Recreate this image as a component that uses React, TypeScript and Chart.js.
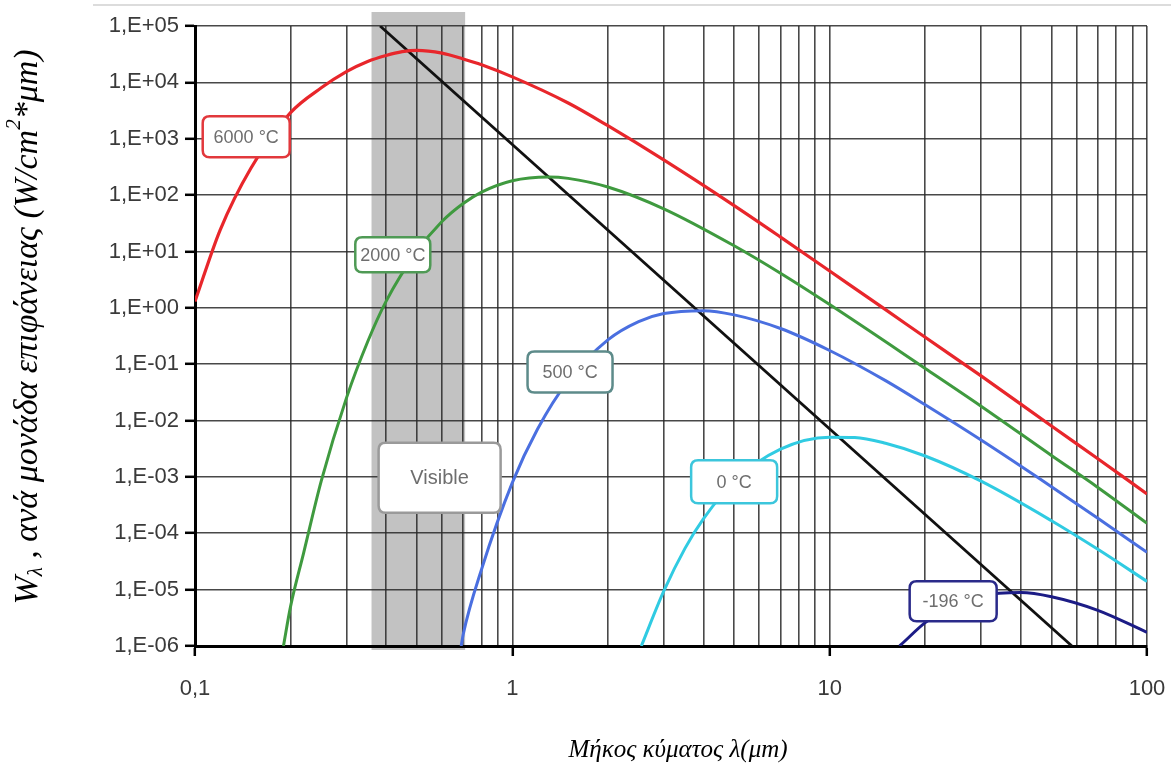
import { useEffect, useRef } from 'react';
import { Chart, registerables } from 'chart.js';

Chart.register(...registerables);

// ---------- axes ----------
const xGridValues = [
  0.1, 0.2, 0.3, 0.4, 0.5, 0.6, 0.7, 0.8, 0.9,
  1, 2, 3, 4, 5, 6, 7, 8, 9,
  10, 20, 30, 40, 50, 60, 70, 80, 90, 100,
];
const xDecades = [0.1, 1, 10, 100];
const xTickLabels = ['0,1', '1', '10', '100'];
const yDecades = [1e-6, 1e-5, 1e-4, 1e-3, 1e-2, 1e-1, 1e0, 1e1, 1e2, 1e3, 1e4, 1e5];
const yTickLabels = [
  '1,E-06', '1,E-05', '1,E-04', '1,E-03', '1,E-02', '1,E-01',
  '1,E+00', '1,E+01', '1,E+02', '1,E+03', '1,E+04', '1,E+05',
];
const xTitle = 'Μήκος κύματος λ(μm)';
const yTitleParts = ['W', 'λ', ' , ανά μονάδα επιφάνειας (W/cm', '2', '*μm)'];

// ---------- series (wavelength μm, W/cm²·μm) ----------
const lambda6000 = [0.1, 0.12, 0.15, 0.2, 0.25, 0.3, 0.35, 0.4, 0.45, 0.5, 0.6, 0.7, 0.8, 1, 1.5, 2, 3, 5, 7, 10, 15, 20, 30, 50, 70, 100];
const w6000 = [1.3, 24, 300, 2900, 8000, 15500, 23500, 30000, 35000, 37000, 33000, 26000, 20500, 12500, 4300, 1700, 420, 65, 18, 4.5, 0.93, 0.3, 0.062, 0.008, 0.0021, 0.0005];

const lambda2000 = [0.19, 0.2, 0.22, 0.25, 0.3, 0.35, 0.4, 0.5, 0.6, 0.7, 0.8, 1, 1.3, 1.5, 2, 3, 5, 7, 10, 20, 30, 50, 70, 100];
const w2000 = [1e-6, 5e-6, 4.5e-5, 8.5e-4, 0.025, 0.25, 1.3, 10, 34, 71, 113, 180, 210, 198, 139, 57, 12.6, 4.1, 1.14, 0.084, 0.018, 0.0024, 6.5e-4, 1.5e-4];

const lambda500 = [0.69, 0.7, 0.8, 1, 1.2, 1.5, 2, 2.5, 3, 4, 5, 7, 10, 15, 20, 30, 50, 70, 100];
const w500 = [1e-6, 1.6e-6, 2.3e-5, 7.9e-4, 7.0e-3, 0.051, 0.27, 0.57, 0.79, 0.89, 0.75, 0.43, 0.175, 0.051, 0.019, 0.0045, 6.7e-4, 1.85e-4, 4.6e-5];

const lambda0 = [2.55, 3, 3.5, 4, 5, 7, 10, 12, 15, 20, 30, 50, 70, 100];
const w0 = [1e-6, 9.4e-6, 5.4e-5, 1.8e-4, 8.3e-4, 3.1e-3, 5.05e-3, 5.0e-3, 3.95e-3, 2.35e-3, 8.4e-4, 1.67e-4, 5.2e-5, 1.4e-5];

const lambdaM196 = [16.6, 17, 20, 25, 30, 40, 50, 70, 100];
const wM196 = [1e-6, 1.13e-6, 2.6e-6, 5.6e-6, 7.8e-6, 8.9e-6, 7.5e-6, 4.3e-6, 1.75e-6];

// Wien displacement line
const lambdaWien = [0.383, 58];
const wWien = [1e5, 1e-6];

// visible band (μm)
const visibleRange = [0.36, 0.71];

// curve labels: text and anchor (data coordinates)
const labelTexts = ['6000 °C', '2000 °C', '500 °C', '0 °C', '-196 °C', 'Visible'];
const labelLambda = [0.145, 0.42, 1.52, 5.0, 24.5, 0.59];
const labelW = [1080, 8.7, 0.073, 8.2e-4, 6.2e-6, 9.7e-4];

// styles (kept separate)
const labelStyle = [
  { border: '#e2383c', w: 87, h: 41, size: 18 },
  { border: '#4f9a55', w: 75, h: 35, size: 18 },
  { border: '#5d8b8a', w: 85, h: 41, size: 18 },
  { border: '#3cc6dc', w: 86, h: 43, size: 18 },
  { border: '#2a2a8a', w: 87, h: 40, size: 18 },
  { border: '#9a9a9a', w: 122, h: 70, size: 20 },
];

const pts = (xs: number[], ys: number[]) => xs.map((x, i) => ({ x, y: ys[i] }));
const isDecade = (v: number) => Math.abs(Math.log10(v) - Math.round(Math.log10(v))) < 1e-6;
const SANS = '"Liberation Sans", Arial, sans-serif';
const SERIF = '"Liberation Serif", "Times New Roman", serif';

function roundRect(ctx: CanvasRenderingContext2D, x: number, y: number, w: number, h: number, r: number) {
  ctx.beginPath();
  ctx.moveTo(x + r, y);
  ctx.lineTo(x + w - r, y);
  ctx.quadraticCurveTo(x + w, y, x + w, y + r);
  ctx.lineTo(x + w, y + h - r);
  ctx.quadraticCurveTo(x + w, y + h, x + w - r, y + h);
  ctx.lineTo(x + r, y + h);
  ctx.quadraticCurveTo(x, y + h, x, y + h - r);
  ctx.lineTo(x, y + r);
  ctx.quadraticCurveTo(x, y, x + r, y);
  ctx.closePath();
}

const decorPlugin = {
  id: 'decor',
  beforeDraw(chart: any) {
    const { ctx, chartArea, scales } = chart;
    ctx.save();
    // faint frame line at top
    ctx.strokeStyle = '#dcdcdc';
    ctx.lineWidth = 2;
    ctx.beginPath();
    ctx.moveTo(93, 5);
    ctx.lineTo(chart.width, 5);
    ctx.stroke();
    // visible band
    const x0 = scales.x.getPixelForValue(visibleRange[0]);
    const x1 = scales.x.getPixelForValue(visibleRange[1]);
    ctx.fillStyle = '#c2c2c2';
    ctx.fillRect(x0, chartArea.top - 14, x1 - x0, chartArea.bottom - chartArea.top + 18);
    ctx.restore();
  },
  afterDatasetsDraw(chart: any) {
    const { ctx, scales } = chart;
    ctx.save();
    labelTexts.forEach((t, i) => {
      const st = labelStyle[i];
      const cx = scales.x.getPixelForValue(labelLambda[i]);
      const cy = scales.y.getPixelForValue(labelW[i]);
      roundRect(ctx, cx - st.w / 2, cy - st.h / 2, st.w, st.h, 7);
      ctx.fillStyle = '#ffffff';
      ctx.fill();
      ctx.lineWidth = 2.5;
      ctx.strokeStyle = st.border;
      ctx.stroke();
      ctx.fillStyle = '#6e6e6e';
      ctx.font = `${st.size}px ${SANS}`;
      ctx.textAlign = 'center';
      ctx.textBaseline = 'middle';
      ctx.fillText(t, cx, cy + 1);
    });
    ctx.restore();
  },
  afterDraw(chart: any) {
    const { ctx } = chart;
    ctx.save();
    // x title
    ctx.fillStyle = '#000';
    ctx.font = `italic 25px ${SERIF}`;
    ctx.textAlign = 'center';
    ctx.textBaseline = 'middle';
    ctx.fillText(xTitle, 678, 750);
    // y title (rotated, with sub/superscript)
    const big = `italic 34px ${SERIF}`;
    const small = `italic 21px ${SERIF}`;
    const segs = [
      { t: yTitleParts[0], f: big, dy: 0 },
      { t: yTitleParts[1], f: small, dy: 8 },
      { t: yTitleParts[2], f: big, dy: 0 },
      { t: yTitleParts[3], f: small, dy: -14 },
      { t: yTitleParts[4], f: big, dy: 0 },
    ];
    let total = 0;
    segs.forEach((s) => { ctx.font = s.f; total += ctx.measureText(s.t).width; });
    ctx.translate(28, 327);
    ctx.rotate(-Math.PI / 2);
    ctx.textAlign = 'left';
    ctx.textBaseline = 'middle';
    let x = -total / 2;
    segs.forEach((s) => {
      ctx.font = s.f;
      ctx.fillText(s.t, x, s.dy);
      x += ctx.measureText(s.t).width;
    });
    ctx.restore();
  },
};

export default function App() {
  const ref = useRef<HTMLCanvasElement | null>(null);

  useEffect(() => {
    document.body.style.margin = '0';
    const canvas = ref.current;
    if (!canvas) return;
    const lineDs = (label: string, data: any[], color: string, width: number) => ({
      label,
      data,
      borderColor: color,
      backgroundColor: color,
      borderWidth: width,
      pointRadius: 0,
      fill: false,
      cubicInterpolationMode: 'monotone' as const,
    });
    const chart = new Chart(canvas, {
      type: 'line',
      data: {
        datasets: [
          lineDs('6000 °C', pts(lambda6000, w6000), '#e8262b', 3.2),
          lineDs('2000 °C', pts(lambda2000, w2000), '#3f9a3f', 3),
          lineDs('500 °C', pts(lambda500, w500), '#4a6fe0', 3),
          lineDs('0 °C', pts(lambda0, w0), '#30cbe2', 3),
          lineDs('-196 °C', pts(lambdaM196, wM196), '#1c1c86', 3),
          { ...lineDs('Wien', pts(lambdaWien, wWien), '#111111', 2.8), cubicInterpolationMode: 'default' as const, tension: 0 },
        ],
      },
      options: {
        responsive: false,
        animation: false,
        events: [],
        layout: { padding: { left: 0, right: 24, top: 26, bottom: 0 } },
        plugins: { legend: { display: false }, tooltip: { enabled: false }, title: { display: false } },
        scales: {
          x: {
            type: 'logarithmic',
            min: 0.1,
            max: 100,
            afterBuildTicks: (scale: any) => {
              scale.ticks = xGridValues.map((v) => ({ value: v, major: isDecade(v) }));
            },
            afterFit: (scale: any) => {
              scale.height = 132;
              scale.paddingLeft = 0;
              scale.paddingRight = 0;
            },
            ticks: {
              autoSkip: false,
              maxRotation: 0,
              padding: 20,
              color: '#3a3a3a',
              font: { family: SANS, size: 22 },
              callback: (value: any) => {
                const v = Number(value);
                const idx = xDecades.findIndex((d) => Math.abs(d - v) / d < 1e-6);
                return idx >= 0 ? xTickLabels[idx] : '';
              },
            },
            grid: {
              color: 'rgba(40,40,40,0.85)',
              lineWidth: 1.6,
              tickLength: 10,
              tickColor: (c: any) => (c.tick && isDecade(c.tick.value) ? '#000' : 'rgba(0,0,0,0)'),
              tickWidth: 2.5,
            },
            border: { color: '#000', width: 3 },
          },
          y: {
            type: 'logarithmic',
            min: 1e-6,
            max: 1e5,
            afterBuildTicks: (scale: any) => {
              scale.ticks = yDecades.map((v) => ({ value: v, major: true }));
            },
            afterFit: (scale: any) => {
              scale.width = 195;
              scale.paddingTop = 0;
              scale.paddingBottom = 0;
            },
            ticks: {
              autoSkip: false,
              padding: 6,
              color: '#3a3a3a',
              font: { family: SANS, size: 22 },
              callback: (value: any) => {
                const v = Number(value);
                const idx = yDecades.findIndex((d) => Math.abs(d - v) / d < 1e-6);
                return idx >= 0 ? yTickLabels[idx] : '';
              },
            },
            grid: {
              color: 'rgba(40,40,40,0.85)',
              lineWidth: 1.6,
              tickLength: 10,
              tickColor: '#000',
              tickWidth: 2.5,
            },
            border: { color: '#000', width: 3 },
          },
        },
      },
      plugins: [decorPlugin],
    } as any);
    return () => chart.destroy();
  }, []);

  return (
    <div style={{ width: 1171, height: 778, background: '#fff' }}>
      <canvas ref={ref} width={1171} height={778} style={{ display: 'block' }} />
    </div>
  );
}
